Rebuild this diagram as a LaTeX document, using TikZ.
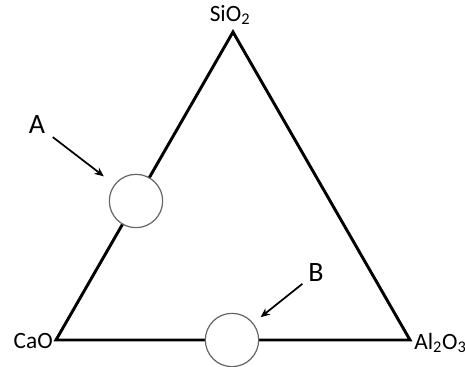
\documentclass[tikz,border=0pt]{standalone}
\usepackage{fontspec}
\setmainfont{Carlito}
\usetikzlibrary{arrows.meta,positioning}

\begin{document}
\begin{tikzpicture}[x=0.75pt,y=-0.75pt,
every node/.style={inner sep=0pt},
oxide/.style={font=\fontsize{17.5}{20}\selectfont},
letter/.style={font=\fontsize{21}{24}\selectfont},
spot/.style={circle,draw=black!60,fill=white,line width=0.9pt,minimum size=40pt},
pointer/.style={-{Stealth[length=7pt,width=6pt]},line width=1.3pt}]
\useasboundingbox (0,0) rectangle (465,367);
\coordinate (S) at (233,32);
\coordinate (C) at (56,340);
\coordinate (Al) at (410,340);
\draw[line width=2.2pt] (S)--(Al)--(C)--cycle;
\node[spot] (cA) at (136,201) {};
\node[spot] (cB) at (232,340) {};
\node[oxide] (nS) at (230,15) {SiO\textsubscript{2}};
\node[oxide,anchor=east] (nC) at (53,341) {CaO};
\node[oxide,anchor=west] (nAl) at (414,343) {Al\textsubscript{2}O\textsubscript{3}};
\node[letter] (nA) at (37,125) {A};
\node[letter] (nB) at (316,273) {B};
\draw[pointer,shorten <=7pt,shorten >=10pt] (nA)--(cA);
\draw[pointer,shorten <=5.5pt,shorten >=7pt] (nB)--(cB);
\end{tikzpicture}
\end{document}
